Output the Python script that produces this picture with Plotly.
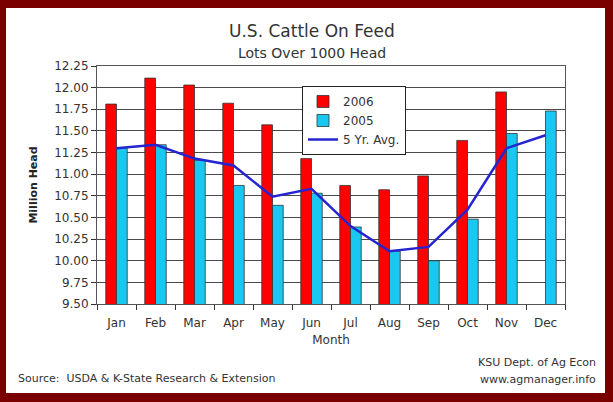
import plotly.graph_objects as go

months = ["Jan", "Feb", "Mar", "Apr", "May", "Jun", "Jul", "Aug", "Sep", "Oct", "Nov", "Dec"]
y2006 = [11.81, 12.11, 12.03, 11.82, 11.57, 11.18, 10.87, 10.82, 10.98, 11.39, 11.95, None]
y2005 = [11.30, 11.34, 11.16, 10.87, 10.64, 10.78, 10.39, 10.11, 10.00, 10.48, 11.47, 11.73]
avg5 = [11.30, 11.34, 11.18, 11.10, 10.74, 10.83, 10.40, 10.11, 10.16, 10.59, 11.30, 11.45]
ytickvals = [9.50, 9.75, 10.00, 10.25, 10.50, 10.75, 11.00, 11.25, 11.50, 11.75, 12.00, 12.25]

W, H = 613, 402
L, R, T, B = 97, 565, 66, 304  # plot area pixel box

def px(x):
    return (x - L) / (R - L)

def py(y):
    return (B - y) / (B - T)

font = "DejaVu Sans"
fig = go.Figure()
fig.add_trace(go.Bar(x=months, y=y2006, name="2006", marker=dict(color="#ff0000", line=dict(color="#333333", width=0.8))))
fig.add_trace(go.Bar(x=months, y=y2005, name="2005", marker=dict(color="#18c8f0", line=dict(color="#333333", width=0.8))))
fig.add_trace(go.Scatter(x=months, y=avg5, name="5 Yr. Avg.", mode="lines", line=dict(color="#2424d0", width=2.5)))

def note(text, x, y, size, xanchor="center"):
    return dict(text=text, x=px(x), y=py(y), xref="paper", yref="paper", xanchor=xanchor,
                yanchor="middle", showarrow=False, font=dict(size=size, color="#333333"))

fig.update_layout(
    width=W, height=H,
    margin=dict(l=L, r=W - R, t=T, b=H - B, pad=0),
    paper_bgcolor="#7a0000",
    plot_bgcolor="white",
    barmode="group", bargap=0.45, bargroupgap=0,
    font=dict(family=font, size=12, color="#333333"),
    showlegend=True,
    legend=dict(x=px(302), y=py(86), xanchor="left", yanchor="top", bgcolor="white",
                bordercolor="#222222", borderwidth=1, font=dict(size=12, color="#333333"),
                itemwidth=30, tracegroupgap=0),
    xaxis=dict(type="category", range=[-0.5, 11.5], showgrid=False, showline=True, linecolor="#555555",
               linewidth=1, mirror=True, ticks="outside", tickson="boundaries", ticklen=5,
               tickcolor="#333333", tickfont=dict(size=12, color="#333333"), ticklabelstandoff=8,
               title=dict(text="Month", font=dict(size=12, color="#333333"), standoff=6)),
    yaxis=dict(range=[9.5, 12.25], tickvals=ytickvals, ticktext=[f"{v:.2f}" for v in ytickvals],
               showgrid=True, gridcolor="#4a4a4a", gridwidth=1, showline=True, linecolor="#555555",
               linewidth=1, mirror=True, ticks="outside", ticklen=5, tickcolor="#333333",
               tickfont=dict(size=12, color="#333333"), zeroline=False,
               title=dict(text="<b>Million Head</b>", font=dict(size=11, color="#222222"), standoff=14)),
    shapes=[dict(type="rect", xref="paper", yref="paper", x0=px(6), x1=px(605), y0=py(393), y1=py(8),
                 fillcolor="white", line=dict(width=0), layer="below")],
    annotations=[
        note("U.S. Cattle On Feed", 312, 31, 17),
        note("Lots Over 1000 Head", 312, 53, 14),
        note("Source:  USDA & K-State Research & Extension", 16, 378, 11, "left"),
        note("KSU Dept. of Ag Econ", 598, 362, 11, "right"),
        note("www.agmanager.info", 598, 379, 11, "right"),
    ],
)

fig.write_html("out.html", config={"displayModeBar": False},
               post_script="document.body.style.margin='0';document.body.style.overflow='hidden';")
